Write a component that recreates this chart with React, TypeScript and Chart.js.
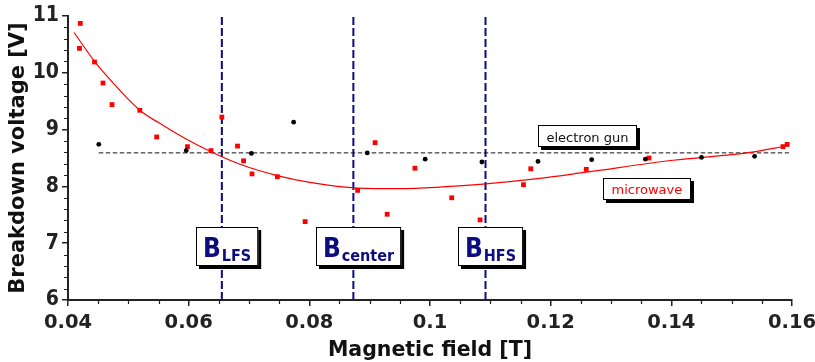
import React, { useEffect, useRef } from 'react';
import { Chart, registerables } from 'chart.js';

Chart.register(...registerables);

// Microwave breakdown measurements (red squares)
const microwaveB = [0.04204, 0.0419, 0.0444, 0.0458, 0.0473, 0.0519, 0.0547, 0.0598, 0.0637, 0.0655, 0.0681, 0.0691, 0.0705, 0.0747, 0.0793, 0.088, 0.0909, 0.0929, 0.0975, 0.1036, 0.1083, 0.1155, 0.1167, 0.1259, 0.1363, 0.1585, 0.1592];
const microwaveV = [10.87, 10.43, 10.19, 9.82, 9.44, 9.34, 8.87, 8.7, 8.63, 9.22, 8.71, 8.45, 8.22, 8.17, 7.38, 7.93, 8.77, 7.51, 8.32, 7.8, 7.41, 8.03, 8.31, 8.3, 8.5, 8.7, 8.74];

// Electron gun breakdown measurements (black dots)
const gunB = [0.0451, 0.0596, 0.0704, 0.0774, 0.0896, 0.0992, 0.1086, 0.1179, 0.1268, 0.1357, 0.145, 0.1538];
const gunV = [8.74, 8.63, 8.58, 9.13, 8.59, 8.48, 8.43, 8.44, 8.47, 8.48, 8.51, 8.53];

// Electron gun mean level (dashed line)
const gunLevelB = [0.0451, 0.1595];
const gunLevelV = [8.59, 8.59];

// Microwave fit curve
const fitB = [0.041, 0.0444, 0.0458, 0.0519, 0.0552, 0.0598, 0.0637, 0.0685, 0.0747, 0.0801, 0.088, 0.095, 0.102, 0.1088, 0.1182, 0.1259, 0.1403, 0.1525, 0.1595];
const fitV = [10.71, 10.2, 10.02, 9.34, 9.11, 8.82, 8.61, 8.39, 8.19, 8.07, 7.97, 7.96, 7.99, 8.04, 8.14, 8.25, 8.46, 8.59, 8.72];

// Resonance positions
const markerB = [0.0655, 0.0873, 0.1092];
const markerSub = ['LFS', 'center', 'HFS'];

// Axes
const xMin = 0.04, xMax = 0.16, xStep = 0.02, xMinorStep = 0.005;
const yMin = 6, yMax = 11, yStep = 1, yMinorStep = 0.2;

const NAVY = '#0c0c80';
const AXIS = '#222222';

const pts = (xs: number[], ys: number[]) => xs.map((x, i) => ({ x, y: ys[i] }));

const minorTicksPlugin = {
  id: 'minorTicks',
  afterDraw(chart: any) {
    const { ctx, scales } = chart;
    const x = scales.x, y = scales.y;
    ctx.save();
    ctx.strokeStyle = AXIS;
    ctx.lineWidth = 1.2;
    ctx.beginPath();
    const nx = Math.round((xMax - xMin) / xMinorStep);
    const perX = Math.round(xStep / xMinorStep);
    for (let i = 0; i <= nx; i++) {
      if (i % perX === 0) continue;
      const px = Math.round(x.getPixelForValue(xMin + i * xMinorStep)) + 0.5;
      ctx.moveTo(px, x.top);
      ctx.lineTo(px, x.top + 4);
    }
    const ny = Math.round((yMax - yMin) / yMinorStep);
    const perY = Math.round(yStep / yMinorStep);
    for (let i = 0; i <= ny; i++) {
      if (i % perY === 0) continue;
      const py = Math.round(y.getPixelForValue(yMin + i * yMinorStep)) + 0.5;
      ctx.moveTo(y.right - 4, py);
      ctx.lineTo(y.right, py);
    }
    ctx.stroke();
    ctx.restore();
  },
};

function shadowBox(ctx: CanvasRenderingContext2D, left: number, top: number, w: number, h: number) {
  ctx.fillStyle = '#000';
  ctx.fillRect(left + 3, top + 3, w, h);
  ctx.fillStyle = '#fff';
  ctx.fillRect(left, top, w, h);
  ctx.strokeStyle = '#000';
  ctx.lineWidth = 1;
  ctx.strokeRect(Math.round(left) + 0.5, Math.round(top) + 0.5, w - 1, h - 1);
}

const labelsPlugin = {
  id: 'labels',
  afterDatasetsDraw(chart: any) {
    const { ctx, scales } = chart;
    const x = scales.x, y = scales.y;
    ctx.save();
    // B markers
    const bigFont = 'bold 26px "DejaVu Sans Condensed", "DejaVu Sans", sans-serif';
    const subFont = 'bold 16px "DejaVu Sans Condensed", "DejaVu Sans", sans-serif';
    const top = y.getPixelForValue(7.285);
    const h = 39;
    markerB.forEach((b, i) => {
      ctx.font = bigFont;
      const wB = ctx.measureText('B').width;
      ctx.font = subFont;
      const wS = ctx.measureText(markerSub[i]).width;
      const pad = 7;
      const w = wB + wS + pad * 2 + 1;
      const cx = x.getPixelForValue(b) + 5;
      const left = Math.round(cx - w / 2);
      shadowBox(ctx, left, top, w, h);
      ctx.fillStyle = NAVY;
      ctx.textBaseline = 'alphabetic';
      ctx.textAlign = 'left';
      ctx.font = bigFont;
      ctx.fillText('B', left + pad, top + 30);
      ctx.font = subFont;
      ctx.fillText(markerSub[i], left + pad + wB + 1, top + 33.5);
    });

    // electron gun / microwave labels
    const smallFont = '13px "DejaVu Sans", sans-serif';
    ctx.font = smallFont;
    const drawTag = (text: string, color: string, bx: number, vy: number, base: number) => {
      const tw = ctx.measureText(text).width;
      const w = Math.round(tw + 17);
      const left = Math.round(x.getPixelForValue(bx));
      const t = Math.round(y.getPixelForValue(vy));
      shadowBox(ctx, left, t, w, 22);
      ctx.fillStyle = color;
      ctx.textAlign = 'left';
      ctx.textBaseline = 'alphabetic';
      ctx.fillText(text, left + 8.5, t + base);
    };
    drawTag('electron gun', '#111', 0.1179, 9.08, 16.5);
    drawTag('microwave', '#ff0000', 0.1287, 8.15, 16);
    ctx.restore();
  },
};

export default function App() {
  const ref = useRef<HTMLCanvasElement | null>(null);

  useEffect(() => {
    if (!ref.current) return;
    const datasets: any[] = [
      {
        label: 'electron gun',
        data: pts(gunB, gunV),
        pointStyle: 'circle',
        pointRadius: 2.4,
        backgroundColor: '#000',
        borderColor: '#000',
        borderWidth: 0,
        showLine: false,
      },
      {
        label: 'microwave',
        data: pts(microwaveB, microwaveV),
        pointStyle: 'rect',
        pointRadius: 3.4,
        backgroundColor: '#ff0000',
        borderColor: '#ff0000',
        borderWidth: 0,
        showLine: false,
      },
      {
        label: 'microwave fit',
        data: pts(fitB, fitV),
        showLine: true,
        borderColor: '#ff0000',
        borderWidth: 1.2,
        pointRadius: 0,
        cubicInterpolationMode: 'monotone',
      },
      {
        label: 'electron gun level',
        data: pts(gunLevelB, gunLevelV),
        showLine: true,
        borderColor: '#111',
        borderWidth: 1,
        borderDash: [4.5, 2.5],
        pointRadius: 0,
      },
      ...markerB.map((b, i) => ({
        label: 'B' + markerSub[i],
        data: [{ x: b, y: yMin }, { x: b, y: yMax }],
        showLine: true,
        borderColor: NAVY,
        borderWidth: 2,
        borderDash: [8, 3],
        pointRadius: 0,
      })),
    ];

    const chart = new Chart(ref.current, {
      type: 'scatter',
      data: { datasets },
      plugins: [minorTicksPlugin, labelsPlugin],
      options: {
        animation: false,
        responsive: false,
        maintainAspectRatio: false,
        layout: { padding: { top: 16, right: 23, left: 0, bottom: 0 } },
        plugins: { legend: { display: false }, tooltip: { enabled: false } },
        scales: {
          x: {
            type: 'linear',
            min: xMin,
            max: xMax,
            ticks: {
              stepSize: xStep,
              color: AXIS,
              padding: 7.5,
              font: { family: '"DejaVu Sans", sans-serif', weight: 'bold', size: 19.5, lineHeight: 1 },
              callback: (v: any) => String(parseFloat(Number(v).toFixed(3))),
              maxRotation: 0,
            },
            grid: { drawOnChartArea: false, tickLength: 6, color: AXIS, lineWidth: 1.5 },
            border: { color: AXIS, width: 2 },
            title: {
              display: true,
              text: 'Magnetic field [T]',
              color: '#111',
              font: { family: '"DejaVu Sans", sans-serif', weight: 'bold', size: 20.5, lineHeight: 1 },
              padding: { top: 0, bottom: 1 },
            },
            afterFit: (s: any) => {
              s.height = 62;
              s.paddingLeft = 0;
              s.paddingRight = 0;
            },
          },
          y: {
            type: 'linear',
            min: yMin,
            max: yMax,
            ticks: {
              stepSize: yStep,
              color: AXIS,
              padding: 3,
              font: { family: '"DejaVu Sans Condensed", "DejaVu Sans", sans-serif', weight: 'bold', size: 21, lineHeight: 1 },
            },
            grid: { drawOnChartArea: false, tickLength: 6, color: AXIS, lineWidth: 1.5 },
            border: { color: AXIS, width: 2 },
            title: {
              display: true,
              text: 'Breakdown voltage [V]',
              color: '#111',
              font: { family: '"DejaVu Sans", sans-serif', weight: 'bold', size: 21, lineHeight: 1 },
              padding: { top: 8, bottom: 0 },
            },
            afterFit: (s: any) => {
              s.width = 68;
              s.paddingTop = 0;
              s.paddingBottom = 0;
            },
          },
        },
      } as any,
    });
    return () => chart.destroy();
  }, []);

  return (
    <div style={{ position: 'fixed', left: 0, top: 0, width: 815, height: 362, background: '#fff' }}>
      <canvas ref={ref} width={815} height={362} style={{ width: 815, height: 362, display: 'block' }} />
    </div>
  );
}
